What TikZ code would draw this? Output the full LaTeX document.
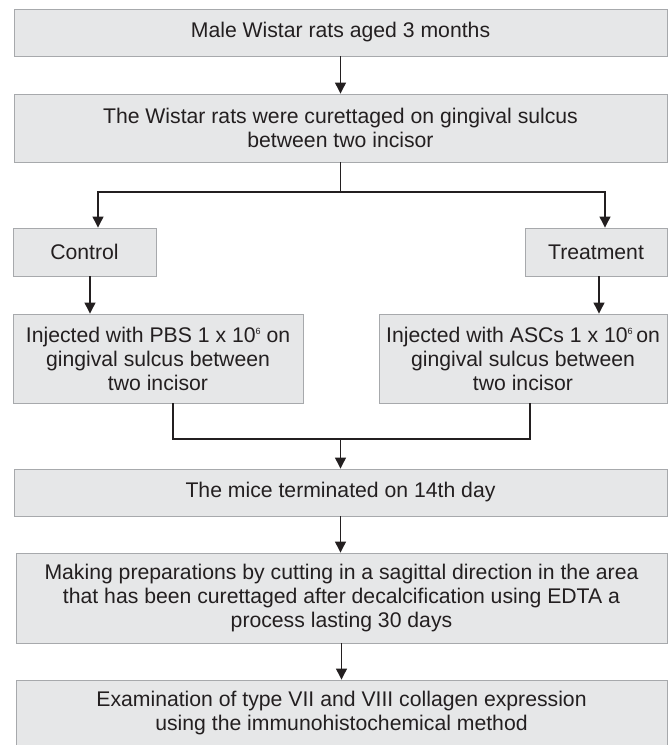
\documentclass[tikz,border=0pt]{standalone}
\usepackage{fontspec}
\setmainfont{Liberation Sans}
\usetikzlibrary{positioning,arrows.meta}

\definecolor{boxfill}{HTML}{E6E7E8}
\definecolor{boxline}{HTML}{A7A9AC}
\definecolor{inkline}{HTML}{231F20}

\newcommand{\tinysup}[1]{\raisebox{8pt}{\fontsize{9}{9}\selectfont #1}}

\tikzset{
  stage/.style={draw=boxline, fill=boxfill, line width=0.9pt, text=inkline,
    align=center, inner sep=0pt, font=\fontsize{21.2}{24}\selectfont},
  link/.style={draw=inkline, line width=1.2pt},
  arr/.style={link, -{Triangle[width=11pt,length=11pt]}}
}

\begin{document}
\begin{tikzpicture}[x=1pt, y=-1pt]
\useasboundingbox (0,0) rectangle (668,745);

% ── Boxes (centres in px, y downwards) ───────────────────────
\node[stage, minimum width=653, minimum height=47] (rats)    at (340.5,32.5) {Male Wistar rats aged 3 months};
\node[stage, minimum width=653, minimum height=68] (curette) at (340.5,128)  {The Wistar rats were curettaged on gingival sulcus\\between two incisor};
\node[stage, minimum width=143, minimum height=48] (control) at (84.5,252)   {Control};
\node[stage, minimum width=142, minimum height=48] (treat)   at (596,252)    {Treatment};
\node[stage, minimum width=290, minimum height=89] (pbs)     at (158,358.5)  {Injected with PBS 1 x 10\tinysup{6} on\\gingival sulcus between\\two incisor};
\node[stage, minimum width=288, minimum height=89] (ascs)    at (523,358.5)  {Injected with ASCs 1 x 10\tinysup{6}\,on\\gingival sulcus between\\two incisor};
\node[stage, minimum width=653, minimum height=47] (mice)    at (340.5,492.5) {The mice terminated on 14th day};
\node[stage, minimum width=651, minimum height=90] (prep)    at (341.5,598)  {Making preparations by cutting in a sagittal direction in the area\\that has been curettaged after decalcification using EDTA a\\process lasting 30 days};
\node[stage, minimum width=651, minimum height=66] (exam)    at (341.5,713)  {Examination of type VII and VIII collagen expression\\using the immunohistochemical method};

% ── Split into the two groups ────────────────────────────────
\coordinate (split) at (340.5,192);
\draw[arr] (rats) -- (curette);
\draw[link] (curette) -- (split);
\draw[arr] (split) -| ([xshift=13.5]control.north);
\draw[arr] (split) -| ([xshift=9]treat.north);
\draw[arr] ([xshift=5.5]control.south) -- ([xshift=-68]pbs.north);
\draw[arr] ([xshift=3]treat.south) -- ([xshift=76]ascs.north);

% ── Join and final steps ─────────────────────────────────────
\coordinate (merge) at (340.5,439);
\draw[link] ([xshift=15]pbs.south) |- (merge) -| ([xshift=7]ascs.south);
\draw[arr] (merge) -- (mice);
\draw[arr] (mice.south) -- (mice.south |- prep.north);
\draw[arr] (prep) -- (exam);

\end{tikzpicture}
\end{document}
